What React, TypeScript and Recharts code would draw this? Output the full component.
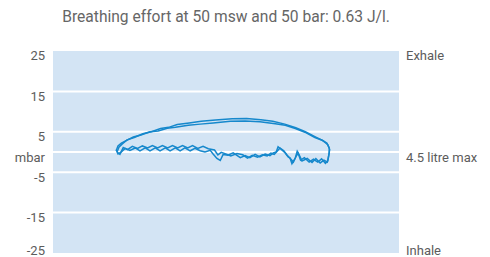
import { LineChart, Line, XAxis, YAxis, CartesianGrid, ReferenceLine } from 'recharts';

// volume (litre), pressure (mbar)
const breathOne: [number, number][] = [
  [0.02, 0.25], [0.06, 1.5], [0.13, 2.2], [0.21, 2.7], [0.38, 3.7], [0.54, 4.2], [0.73, 5.0], [0.9, 5.2],
  [1.09, 5.9], [1.26, 6.1], [1.53, 6.6], [1.78, 6.9], [2.05, 7.2], [2.41, 7.6], [2.72, 7.7], [3.03, 7.5],
  [3.35, 7.0], [3.56, 6.6], [3.77, 5.8], [3.97, 4.9], [4.18, 3.6], [4.33, 2.9], [4.43, 2.2], [4.48, 1.0],
  [4.48, -0.25], [4.46, -1.5], [4.44, -2.5],
  [4.37, -2.0], [4.29, -2.7], [4.2, -1.6], [4.12, -2.6], [4.02, -1.6], [3.91, -2.2], [3.85, -0.7], [3.81, 0.2],
  [3.77, -1.5], [3.7, -2.9], [3.66, -1.5], [3.62, -1.2], [3.56, -0.25], [3.49, 0.5], [3.41, 1.3], [3.37, 0],
  [3.31, -0.25], [3.24, -0.9], [3.14, -0.5], [3.03, -1.2], [2.93, -0.6], [2.82, -1.4], [2.72, -0.9], [2.62, -1.4],
  [2.47, -0.2], [2.36, -0.8], [2.26, -0.6], [2.2, -2.1], [2.13, -1.6], [2.05, -0.5], [1.99, 0.4], [1.88, 0.0],
  [1.78, 0.3], [1.67, 0.9], [1.57, 0.3], [1.46, 1.0], [1.36, 0.3], [1.26, 1.0], [1.15, 0.3], [1.05, 1.0],
  [0.94, 0.3], [0.84, 1.0], [0.73, 0.3], [0.63, 1.0], [0.52, 0.3], [0.42, 1.0], [0.31, 0.4], [0.21, 0.9],
  [0.13, 0.0], [0.06, -0.5], [0.02, 0.6],
];

const breathTwo: [number, number][] = [
  [0.04, 0.0], [0.08, 1.2], [0.15, 2.0], [0.25, 3.0], [0.4, 3.6], [0.58, 4.5], [0.76, 5.0], [0.95, 5.8],
  [1.12, 6.1], [1.3, 6.8], [1.55, 7.2], [1.8, 7.6], [2.1, 7.9], [2.45, 8.2], [2.75, 8.3], [3.05, 8.0],
  [3.3, 7.6], [3.55, 6.9], [3.78, 6.0], [3.98, 5.0], [4.2, 3.7], [4.35, 2.8], [4.45, 1.8], [4.49, 0.6],
  [4.47, -0.8], [4.45, -2.2],
  [4.4, -2.8], [4.32, -1.7], [4.24, -2.5], [4.15, -1.8], [4.06, -2.5], [3.96, -1.4], [3.88, -2.0], [3.83, -0.3],
  [3.79, -1.0], [3.73, -2.5], [3.68, -1.8], [3.6, -0.8], [3.53, 0.3], [3.45, 1.0], [3.39, 0.2], [3.33, -0.6],
  [3.26, -0.3], [3.18, -1.0], [3.08, -0.7], [2.98, -1.3], [2.87, -0.8], [2.77, -1.5], [2.67, -0.7], [2.55, -0.4],
  [2.42, -1.0], [2.3, -0.4], [2.22, -0.1], [2.15, -0.7], [2.08, 0.5], [1.95, 0.8], [1.84, 1.4], [1.73, 0.9],
  [1.62, 1.6], [1.52, 1.0], [1.41, 1.6], [1.31, 1.0], [1.2, 1.6], [1.1, 1.0], [0.99, 1.6], [0.89, 1.0],
  [0.78, 1.6], [0.68, 1.0], [0.57, 1.5], [0.47, 0.9], [0.36, 1.4], [0.26, 0.6], [0.17, 1.1], [0.1, -0.6],
  [0.04, 0.0],
];

const leftTicks = [25, 15, 5, 0, -5, -15, -25];
const rightTicks = [25, 0, -25];
const gridLines = [15, 5, 0, -5, -15];
const rightLabels: Record<string, string> = { '25': 'Exhale', '0': '4.5 litre max', '-25': 'Inhale' };

const title = 'Breathing effort at 50 msw and 50 bar: 0.63 J/l.';
const font = 'Roboto, sans-serif';
const textColor = '#5c5c5c';
const lineColor = '#1688cc';

const toRows = (pts: [number, number][]) => pts.map(([v, p]) => ({ v, p }));

const LeftTick = ({ x, y, payload }: any) => {
  const val = payload.value;
  const shift = val === -25 ? -3 : val === 25 ? 4 : 5;
  return (
    <text x={x} y={y + shift} dy="0.36em" textAnchor="end" fill={textColor} fontSize={13} fontFamily={font}>
      {val === 0 ? 'mbar' : val}
    </text>
  );
};

const RightTick = ({ x, y, payload }: any) => {
  const val = payload.value;
  const shift = val === -25 ? -3 : val === 25 ? 4 : 5;
  return (
    <text x={x} y={y + shift} dy="0.36em" textAnchor="start" fill={textColor} fontSize={13} fontFamily={font}>
      {rightLabels[String(val)]}
    </text>
  );
};

export default function App() {
  return (
    <div style={{ position: 'absolute', left: 0, top: 0, width: 490, height: 257 }}>
      <div
        style={{
          position: 'absolute', left: 53, top: 8, width: 346, textAlign: 'center',
          fontFamily: font, fontSize: 15.6, lineHeight: '18px', color: '#666666',
        }}
      >
        {title}
      </div>
      <LineChart width={490} height={257} margin={{ top: 51, right: 0, left: 0, bottom: 4 }}>
        <CartesianGrid horizontal={false} vertical={false} fill="#d3e4f4" />
        <XAxis type="number" dataKey="v" domain={[-1.3, 5.94]} hide allowDataOverflow />
        <YAxis
          yAxisId="l" type="number" domain={[-25, 25]} ticks={leftTicks} interval={0}
          width={53} axisLine={false} tickLine={false} tickMargin={2} tick={<LeftTick />}
        />
        <YAxis
          yAxisId="r" orientation="right" type="number" domain={[-25, 25]} ticks={rightTicks} interval={0}
          width={91} axisLine={false} tickLine={false} tickMargin={1} tick={<RightTick />}
        />
        {gridLines.map((g) => (
          <ReferenceLine key={g} yAxisId="l" y={g} stroke="#ffffff" strokeWidth={2} />
        ))}
        <Line yAxisId="l" data={toRows(breathOne)} dataKey="p" type="linear" stroke={lineColor}
          strokeWidth={1.5} dot={false} isAnimationActive={false} />
        <Line yAxisId="r" data={toRows(breathTwo)} dataKey="p" type="linear" stroke={lineColor}
          strokeWidth={1.5} dot={false} isAnimationActive={false} />
      </LineChart>
    </div>
  );
}
